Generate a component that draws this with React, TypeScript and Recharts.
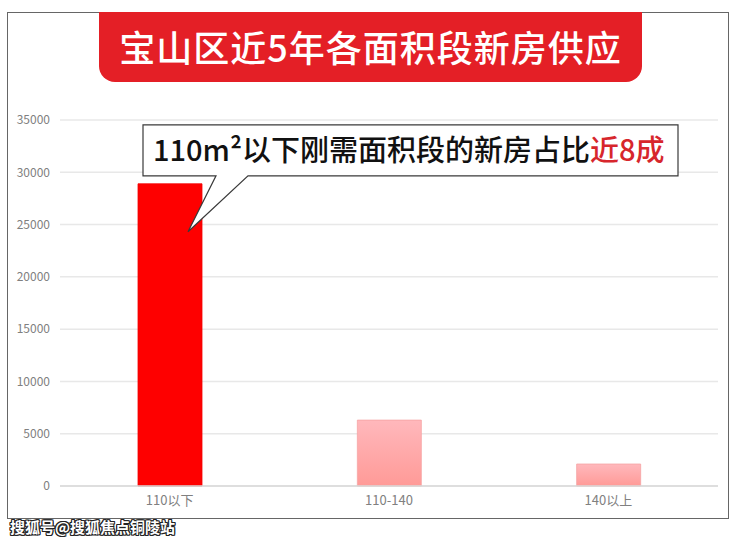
import { Bar, BarChart, CartesianGrid, Cell, LabelList, XAxis, YAxis } from "recharts";

const categories = ["110以下", "110-140", "140以上"];
const supply = [28900, 6300, 2100];
const yTicks = [0, 5000, 10000, 15000, 20000, 25000, 30000, 35000];

const title = "宝山区近5年各面积段新房供应";
const calloutText = "110m²以下刚需面积段的新房占比";
const calloutHighlight = "近8成";
const watermark = "搜狐号@搜狐焦点铜陵站";

const data = categories.map((name, i) => ({ name, value: supply[i] }));

const FONT = '"Noto Sans CJK SC", "Noto Sans", sans-serif';

// speech-bubble callout anchored on the first bar
const Callout = (props: any) => {
  const { x, y, index } = props;
  if (index !== 0) return null;
  const left = x + 5;
  const right = 678;
  const top = y - 59;
  const bottom = y - 8;
  const tipX = x + 50;
  const tipY = y + 48;
  const d = `M${left},${top} H${right} V${bottom} H${x + 110} L${tipX},${tipY} L${x + 78},${bottom} H${left} Z`;
  return (
    <g>
      <path d={d} fill="#fff" stroke="#3a3a3a" strokeWidth={1.2} />
      <text
        x={left + 10}
        y={y - 23}
        fontSize={29}
        fontWeight={500}
        fontFamily={FONT}
        fill="#111"
      >
        {calloutText}
        <tspan fill="#d7262c">{calloutHighlight}</tspan>
      </text>
    </g>
  );
};

export default function App() {
  return (
    <div
      style={{
        position: "absolute",
        left: 0,
        top: 0,
        width: 740,
        height: 543,
        background: "#fff",
        fontFamily: FONT,
        overflow: "hidden"
      }}
    >
      <div
        style={{
          position: "absolute",
          left: 7,
          top: 12,
          width: 722,
          height: 507,
          boxSizing: "border-box",
          border: "1px solid #666"
        }}
      />
      <div
        style={{
          position: "absolute",
          left: 99,
          top: 12,
          width: 543,
          height: 70,
          background: "#e41f26",
          borderRadius: "0 0 16px 16px",
          color: "#fff",
          fontSize: 36,
          fontWeight: 500,
          letterSpacing: 1,
          lineHeight: "68px",
          textAlign: "center",
          whiteSpace: "nowrap"
        }}
      >
        {title}
      </div>
      <div style={{ position: "absolute", left: 0, top: 0 }}>
        <BarChart
          width={740}
          height={543}
          data={data}
          margin={{ top: 120, right: 22, bottom: 27, left: 0 }}
        >
          <defs>
            <linearGradient id="barPink" x1="0" y1="0" x2="0" y2="1">
              <stop offset="0%" stopColor="#ffb8bc" />
              <stop offset="100%" stopColor="#ff9a97" />
            </linearGradient>
          </defs>
          <CartesianGrid vertical={false} stroke="#e8e8e8" strokeWidth={1.5} />
          <XAxis
            dataKey="name"
            axisLine={{ stroke: "#d9d9d9", strokeWidth: 1.5 }}
            tickLine={false}
            tickSize={0}
            tickMargin={10}
            height={30}
            tick={{ fill: "#808080", fontSize: 13, fontFamily: FONT }}
          />
          <YAxis
            domain={[0, 35000]}
            ticks={yTicks}
            width={60}
            axisLine={false}
            tickLine={false}
            tickSize={0}
            tickMargin={10}
            tick={{ fill: "#808080", fontSize: 12, fontFamily: FONT }}
          />
          <Bar dataKey="value" barSize={64} isAnimationActive={false}>
            {data.map((d, i) => (
              <Cell
                key={d.name}
                fill={i === 0 ? "#fe0000" : "url(#barPink)"}
                stroke={i === 0 ? "#f20000" : "#f5a3a3"}
                strokeWidth={0.8}
              />
            ))}
            <LabelList dataKey="value" content={Callout} />
          </Bar>
        </BarChart>
      </div>
      <div
        style={{
          position: "absolute",
          left: 10,
          top: 517,
          fontSize: 15,
          fontWeight: 700,
          color: "#fff",
          lineHeight: "20px",
          textShadow:
            "1px 0 0 #222, -1px 0 0 #222, 0 1px 0 #222, 0 -1px 0 #222, 1px 1px 0 #222, -1px -1px 0 #222, 1px -1px 0 #222, -1px 1px 0 #222"
        }}
      >
        {watermark}
      </div>
    </div>
  );
}
